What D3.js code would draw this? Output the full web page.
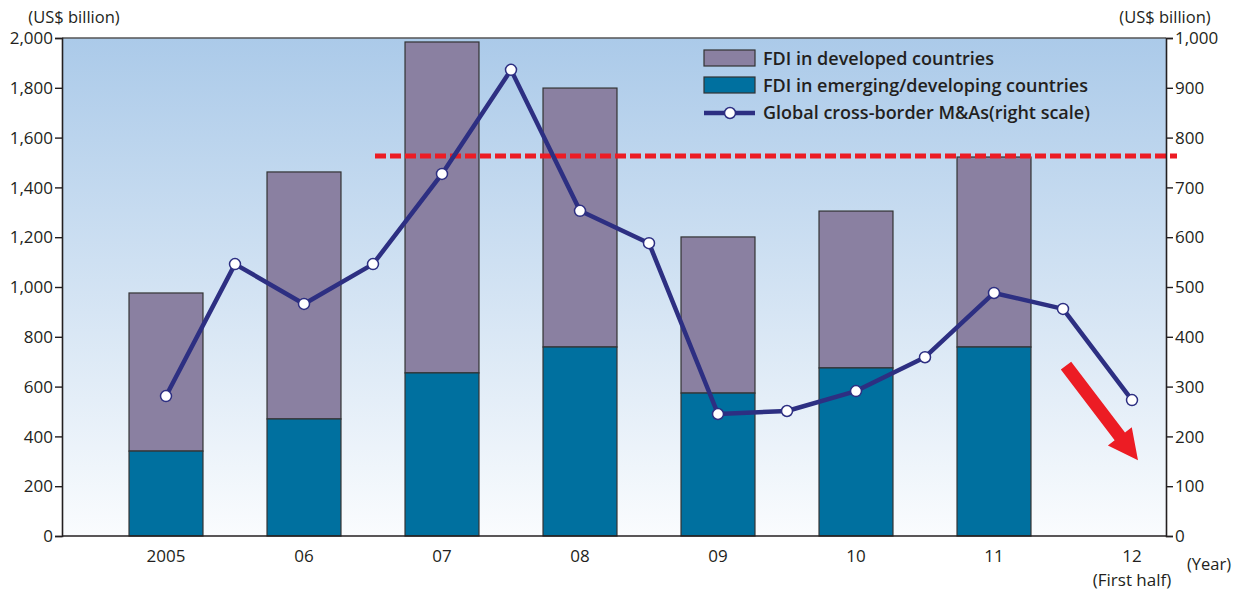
<!DOCTYPE html>
<html>
<head>
<meta charset="utf-8">
<script src="https://cdn.jsdelivr.net/npm/d3@7/dist/d3.min.js"></script>
<style>
  html, body { margin: 0; padding: 0; background: #fff; }
  svg { display: block; }
  text { font-family: "Open Sans", "Noto Sans", sans-serif; fill: #231f20; }
</style>
</head>
<body>
<svg id="chart" width="1234" height="590"></svg>
<script>
// Annual FDI (left scale, US$ billion)
const years = ["2005", "06", "07", "08", "09", "10", "11", "12"];
const fdiTotal    = [976, 1462, 1984, 1799, 1201, 1305, 1522, null];
const fdiEmerging = [341, 470, 655, 759, 574, 675, 759, null];

// Half-yearly global cross-border M&As (right scale, US$ billion)
const maValues = [281, 546, 466, 546, 727, 936, 653, 588, 245, 251, 291, 359, 488, 456, 273];

const leftTicks  = [0, 200, 400, 600, 800, 1000, 1200, 1400, 1600, 1800, 2000];
const rightTicks = [0, 100, 200, 300, 400, 500, 600, 700, 800, 900, 1000];

// Reference level marked by the dashed line (left scale)
const refLevel = 1526;

const legendItems = [
  "FDI in developed countries",
  "FDI in emerging/developing countries",
  "Global cross-border M&As(right scale)"
];

const colors = {
  developed: "#8a80a1",
  emerging: "#00709f",
  line: "#2d2f82",
  red: "#ec1c24",
  axis: "#231f20"
};

const svg = d3.select("#chart");
const m = { left: 62, right: 1166, top: 38, bottom: 536 };

const x = d3.scaleBand().domain(years).range([97, 1201]).paddingInner(0.464).paddingOuter(0.232);
const yL = d3.scaleLinear().domain([0, 2000]).range([m.bottom, m.top]);
const yR = d3.scaleLinear().domain([0, 1000]).range([m.bottom, m.top]);
// half-year positions: index 0 = 2005 centre, step of half a category
const xc = i => x(years[0]) + x.bandwidth() / 2 + i * x.step() / 2;

// background gradient
const defs = svg.append("defs");
const grad = defs.append("linearGradient").attr("id", "bg").attr("x1", 0).attr("y1", 0).attr("x2", 0).attr("y2", 1);
grad.append("stop").attr("offset", "0%").attr("stop-color", "#abcae9");
grad.append("stop").attr("offset", "55%").attr("stop-color", "#d6e5f4");
grad.append("stop").attr("offset", "100%").attr("stop-color", "#fafcfe");

svg.append("rect")
  .attr("x", m.left).attr("y", m.top)
  .attr("width", m.right - m.left).attr("height", m.bottom - m.top)
  .attr("fill", "url(#bg)");

// stacked bars
const barData = years.map((y, i) => ({ year: y, total: fdiTotal[i], emerging: fdiEmerging[i] }))
  .filter(d => d.total != null);

const bars = svg.append("g");
bars.selectAll("rect.dev").data(barData).join("rect")
  .attr("class", "dev")
  .attr("x", d => x(d.year)).attr("width", x.bandwidth())
  .attr("y", d => yL(d.total)).attr("height", d => yL(d.emerging) - yL(d.total))
  .attr("fill", colors.developed).attr("stroke", "#333").attr("stroke-width", 1.2);
bars.selectAll("rect.emg").data(barData).join("rect")
  .attr("class", "emg")
  .attr("x", d => x(d.year)).attr("width", x.bandwidth())
  .attr("y", d => yL(d.emerging)).attr("height", d => yL(0) - yL(d.emerging))
  .attr("fill", colors.emerging).attr("stroke", "#333").attr("stroke-width", 1.2);

// dashed reference line
svg.append("line")
  .attr("x1", xc(3) + 2).attr("x2", m.right + 11)
  .attr("y1", yL(refLevel)).attr("y2", yL(refLevel))
  .attr("stroke", colors.red).attr("stroke-width", 5)
  .attr("stroke-dasharray", "11 4");

// axes
const axisG = svg.append("g");
axisG.append("line").attr("x1", m.left).attr("x2", m.right).attr("y1", m.top).attr("y2", m.top)
  .attr("stroke", "#555").attr("stroke-width", 1.5);

const left = axisG.append("g").attr("transform", `translate(${m.left},0)`)
  .call(d3.axisLeft(yL).tickValues(leftTicks).tickSize(7).tickPadding(2).tickFormat(d3.format(",")));
const right = axisG.append("g").attr("transform", `translate(${m.right},0)`)
  .call(d3.axisRight(yR).tickValues(rightTicks).tickSize(7).tickPadding(2).tickFormat(d3.format(",")));
const bottom = axisG.append("g").attr("transform", `translate(0,${m.bottom})`)
  .call(d3.axisBottom(x).tickSize(0).tickPadding(14));
bottom.select(".domain").attr("d", `M${m.left},0H${m.right}`);

[left, right, bottom].forEach(g => {
  g.select(".domain").attr("stroke", colors.axis).attr("stroke-width", 1.6);
  g.selectAll(".tick line").attr("stroke", colors.axis).attr("stroke-width", 1.4);
  g.selectAll("text").attr("font-size", 17).attr("fill", colors.axis)
    .style("font-family", '"Open Sans", "Noto Sans", sans-serif');
});
left.selectAll(".tick text").attr("dy", "0.34em");
right.selectAll(".tick text").attr("dy", "0.34em");

bottom.selectAll(".tick").filter(d => d === "12").append("text")
  .attr("y", 50).attr("text-anchor", "middle")
  .attr("font-size", 17).attr("fill", colors.axis)
  .text("(First half)");

// unit labels
svg.append("text").attr("x", 74).attr("y", 23).attr("text-anchor", "middle").attr("font-size", 16.5).text("(US$ billion)");
svg.append("text").attr("x", 1165).attr("y", 23).attr("text-anchor", "middle").attr("font-size", 16.5).text("(US$ billion)");
svg.append("text").attr("x", 1209).attr("y", 570).attr("text-anchor", "middle").attr("font-size", 16.5).text("(Year)");

// M&A line
const lineGen = d3.line().x((d, i) => xc(i)).y(d => yR(d));
svg.append("path").datum(maValues)
  .attr("d", lineGen).attr("fill", "none")
  .attr("stroke", colors.line).attr("stroke-width", 4.5).attr("stroke-linejoin", "round");
svg.append("g").selectAll("circle").data(maValues).join("circle")
  .attr("cx", (d, i) => xc(i)).attr("cy", d => yR(d)).attr("r", 5.5)
  .attr("fill", "#fff").attr("stroke", colors.line).attr("stroke-width", 1.5);

// downward trend arrow after the last point
const a0 = [xc(13) + 3, yR(342)];
const a1 = [xc(14) + 6, yR(152)];
const ang = Math.atan2(a1[1] - a0[1], a1[0] - a0[0]);
const len = Math.hypot(a1[0] - a0[0], a1[1] - a0[1]);
const shaft = 6.5, headW = 15, headL = 30;
const arrowPts = [
  [0, -shaft], [len - headL, -shaft], [len - headL, -headW], [len, 0],
  [len - headL, headW], [len - headL, shaft], [0, shaft]
];
svg.append("polygon")
  .attr("points", arrowPts.map(p => p.join(",")).join(" "))
  .attr("transform", `translate(${a0[0]},${a0[1]}) rotate(${ang * 180 / Math.PI})`)
  .attr("fill", colors.red);

// legend
const lg = svg.append("g").attr("transform", "translate(704,50)");
const rowH = 27;
legendItems.forEach((label, i) => {
  const row = lg.append("g").attr("transform", `translate(0,${i * rowH})`);
  if (i < 2) {
    row.append("rect").attr("x", 0).attr("y", 0).attr("width", 51).attr("height", 16)
      .attr("fill", i === 0 ? colors.developed : colors.emerging)
      .attr("stroke", "#333").attr("stroke-width", 1.2);
  } else {
    row.append("line").attr("x1", 0).attr("x2", 51).attr("y1", 9).attr("y2", 9)
      .attr("stroke", colors.line).attr("stroke-width", 4.5);
    row.append("circle").attr("cx", 26).attr("cy", 9).attr("r", 5.5)
      .attr("fill", "#fff").attr("stroke", colors.line).attr("stroke-width", 1.5);
  }
  row.append("text").attr("x", 59).attr("y", 15).attr("font-size", 18).attr("font-weight", 600)
    .text(label);
});
</script>
</body>
</html>
